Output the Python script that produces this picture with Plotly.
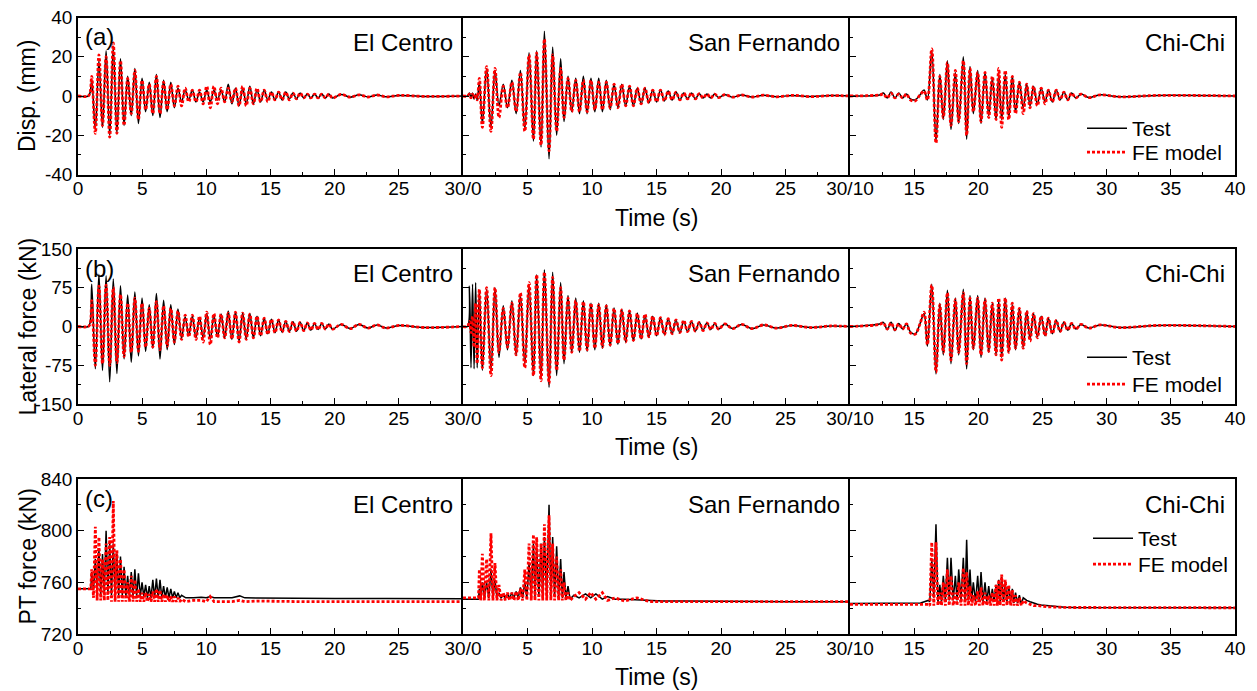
import plotly.graph_objects as go

# ======================= DATA =======================
# ---- El Centro: half-cycle peak times (s), shared by displacement & lateral force
t_elc = [0, 0.80, 0.95, 1.07, 1.35, 1.63, 1.91, 2.19, 2.47, 2.75,
         3.03, 3.31, 3.59, 3.87, 4.15, 4.43, 4.71, 4.99, 5.27, 5.55,
         5.83, 6.11, 6.39, 6.67, 6.95, 7.23, 7.51, 7.79, 8.07, 8.35,
         8.63, 8.91, 9.19, 9.47, 9.75, 10.03, 10.31, 10.59, 10.87, 11.15,
         11.43, 11.71, 11.99, 12.27, 12.55, 12.83, 13.11, 13.39, 13.67, 13.95,
         14.23, 14.51, 14.79, 15.07, 15.35, 15.63, 15.91, 16.19, 16.47, 16.75,
         17.03, 17.31, 17.59, 17.87, 18.15, 18.43, 18.71, 18.99, 19.27, 19.55,
         19.83, 20.5, 21.2, 21.9, 22.6, 23.3, 24.0, 25.0, 27.0, 30.0]
disp_elc_test = [0, 0, 2, 8, -17, 18, -16, 23, -20, 25,
                 -19, 19, -15, 10, -10, 14, -14, 9, -8, 7,
                 -10, 11, -11, 8, -8, 7, -6, 4, -3, 3,
                 -2, 3, -3, 2, -3, 3, -3, 3, -2, 3,
                 -3, 6, -4, 4, -5, 4, -4, 5, -4, 3,
                 -3, 3, -2, 2, -2, 2, -2, 2, -1.5, 1.5,
                 -1.5, 1.5, -1, 1, -1, 1, -1, 1, -1, 1,
                 -1, 0.8, -0.6, 0.6, -0.5, 0.5, -0.4, 0.3, -0.2, 0]
disp_elc_fe = [0, 0, 2, 10, -19, 21, -15, 20, -21, 27,
               -19, 18, -15, 9, -9, 13, -12, 8, -7, 6,
               -9, 10, -9, 7, -7, 6, -5, 5, -5, 4,
               -3, 3, -3, 3, -4, 5, -6, 5, -4, 4,
               -3, 4, -3, 4, -5, 5, -5, 4, -4, 4,
               -3, 3, -3, 2, -2, 2, -2, 2, -2, 1.5,
               -1.5, 1.5, -1, 1, -1, 1, -1, 1, -1, 1,
               -1, 0.8, -0.6, 0.6, -0.5, 0.5, -0.4, 0.3, -0.2, 0]
force_elc_test = [0, 0, 8, 82, -82, 101, -85, 98, -107, 92,
                  -91, 79, -63, 61, -69, 67, -57, 55, -48, 42,
                  -42, 64, -63, 51, -45, 42, -35, 34, -23, 19,
                  -18, 20, -22, 18, -22, 25, -25, 22, -20, 24,
                  -22, 30, -25, 28, -28, 26, -24, 25, -22, 20,
                  -18, 16, -14, 14, -12, 13, -11, 10, -10, 9,
                  -9, 8, -8, 7, -7, 6, -6, 6, -5, 5,
                  -5, 4, -4, 4, -3, 3, -3, 2, -2, 0]
force_elc_fe = [0, 0, 5, 50, -75, 78, -72, 80, -75, 75,
                -70, 62, -58, 45, -50, 55, -48, 45, -40, 35,
                -40, 48, -45, 40, -38, 35, -30, 30, -25, 22,
                -20, 22, -25, 20, -30, 28, -35, 25, -22, 24,
                -22, 26, -24, 28, -30, 26, -25, 24, -22, 20,
                -18, 16, -15, 14, -12, 13, -11, 10, -10, 9,
                -9, 8, -8, 7, -7, 6, -6, 6, -5, 5,
                -5, 4, -4, 4, -3, 3, -3, 2, -2, 0]
# PT force: peaks at every displacement peak, troughs in between
t_elc_pt = [0, 1.00, 1.07, 1.21, 1.35, 1.49, 1.63, 1.77, 1.91, 2.05,
            2.19, 2.33, 2.47, 2.61, 2.75, 2.89, 3.03, 3.17, 3.31, 3.45,
            3.59, 3.73, 3.87, 4.01, 4.15, 4.29, 4.43, 4.57, 4.71, 4.85,
            4.99, 5.13, 5.27, 5.41, 5.55, 5.69, 5.83, 5.97, 6.11, 6.25,
            6.39, 6.53, 6.67, 6.81, 6.95, 7.09, 7.23, 7.37, 7.51, 7.65,
            7.79, 7.93, 8.07, 8.40, 9.00, 9.60, 10.00, 10.30, 10.60, 11.20,
            12.00, 12.60, 13.00, 14.00, 16.00, 18.00, 20.00, 24.00, 27.00, 30.00]
pt_elc_test = [755, 755, 768, 754, 778, 752, 785, 751, 782, 751,
               800, 751, 790, 750, 790, 750, 782, 750, 780, 750,
               772, 749, 765, 749, 768, 749, 770, 749, 767, 749,
               760, 749, 758, 748, 757, 748, 762, 748, 763, 748,
               762, 748, 757, 748, 756, 748, 755, 748, 753, 748,
               752, 748, 750, 748, 748, 748.5, 748, 749, 748, 748,
               748, 749.5, 748, 747.8, 747.6, 747.5, 747.5, 747.4, 747.3, 747.3]
pt_elc_fe = [755, 755, 770, 748, 803, 746, 795, 746, 778, 746,
             790, 746, 795, 745, 823, 745, 785, 745, 778, 745,
             770, 745, 760, 745, 765, 745, 762, 745, 755, 745,
             752, 745, 752, 745, 751, 745, 753, 745, 755, 745,
             754, 745, 751, 745, 750, 745, 749, 745, 749, 745,
             748, 745, 747, 745, 746, 746, 745, 749, 745, 745,
             745, 746, 745, 745.5, 745, 745, 745, 745, 745, 745]

# ---- San Fernando
t_sf = [0, 0.35, 0.50, 0.62, 0.74, 0.86, 0.98, 1.10, 1.27, 1.50,
        1.83, 2.17, 2.48, 2.79, 3.12, 3.45, 3.79, 4.12, 4.45, 4.79,
        5.12, 5.46, 5.71, 6.05, 6.31, 6.67, 6.95, 7.26, 7.57, 7.83,
        8.14, 8.43, 8.74, 9.03, 9.33, 9.62, 9.92, 10.22, 10.52, 10.81,
        11.11, 11.41, 11.71, 12.01, 12.31, 12.61, 12.91, 13.21, 13.51, 13.81,
        14.11, 14.41, 14.71, 15.01, 15.31, 15.61, 15.91, 16.21, 16.51, 16.81,
        17.11, 17.41, 17.71, 18.01, 18.31, 18.61, 18.91, 19.21, 19.51, 19.81,
        20.3, 20.9, 21.6, 22.4, 23.3, 24.3, 25.5, 27.0, 28.5, 30.0]
disp_sf_test = [0, 0, 1.5, -1, 1.5, -1.5, 1, -2, 7, -14,
                14, -16, 13, -5, 6, -6, 8, -9, 13, -17,
                22, -23, 23, -26, 33, -32, 25, -20, 19, -13,
                10, -8, 9, -9, 10, -9, 9, -8, 9, -8,
                8, -7, 6, -6, 6, -5, 5, -5, 4, -4,
                4, -3.5, 3, -3, 3, -2.5, 2.5, -2, 2, -2,
                1.5, -1.5, 1.5, -1.5, 1.2, -1, 1, -1, 1, -0.8,
                0.7, -0.6, 0.5, -0.5, 0.4, -0.4, 0.3, -0.3, 0.2, 0]
disp_sf_fe = [0, 0, 1, -1, 1, -1, 1, -2, 9, -16,
              15, -18, 14, -11, 5, -6, 7, -8, 12, -18,
              21, -22, 22, -25, 29, -28, 21, -18, 14, -11,
              9, -8, 8, -8, 8, -8, 8, -7, 7, -7,
              7, -6, 6, -6, 6, -5, 5, -5, 4, -4,
              4, -3.5, 3, -3, 3, -2.5, 2.5, -2, 2, -2,
              1.5, -1.5, 1.5, -1.5, 1.2, -1, 1, -1, 1, -0.8,
              0.7, -0.6, 0.5, -0.5, 0.4, -0.4, 0.3, -0.3, 0.2, 0]
force_sf_test = [0, 0, 78, -80, 82, -82, 85, -80, 70, -85,
                 72, -85, 75, -60, 40, -45, 50, -55, 60, -72,
                 80, -95, 100, -102, 110, -118, 105, -95, 85, -72,
                 60, -50, 55, -50, 50, -48, 45, -45, 45, -42,
                 42, -38, 36, -34, 33, -30, 30, -28, 26, -24,
                 22, -20, 20, -18, 17, -15, 15, -14, 12, -12,
                 10, -10, 9, -9, 8, -7, 7, -6, 6, -5,
                 5, -4, 4, -4, 3, -3, 2, -2, 1, 0]
force_sf_fe = [0, 0, 10, -12, 20, -40, 45, -72, 72, -80,
               75, -95, 75, -50, 35, -40, 45, -55, 65, -80,
               85, -95, 100, -105, 105, -110, 95, -85, 75, -65,
               55, -50, 50, -48, 48, -45, 45, -42, 42, -40,
               40, -36, 35, -33, 32, -30, 30, -27, 25, -24,
               24, -20, 20, -18, 17, -16, 15, -14, 13, -12,
               12, -10, 10, -9, 8, -8, 7, -6, 6, -5,
               5, -4, 4, -4, 3, -3, 2, -2, 1, 0]
t_sf_pt = [0, 1.20, 1.27, 1.38, 1.50, 1.66, 1.83, 2.00, 2.17, 2.32,
           2.48, 2.63, 2.79, 2.95, 3.12, 3.28, 3.45, 3.62, 3.79, 3.95,
           4.12, 4.28, 4.45, 4.62, 4.79, 4.95, 5.12, 5.29, 5.46, 5.58,
           5.71, 5.88, 6.05, 6.18, 6.31, 6.49, 6.67, 6.81, 6.95, 7.10,
           7.26, 7.41, 7.57, 7.70, 7.83, 7.98, 8.14, 8.30, 8.60, 9.00,
           9.50, 9.90, 10.30, 10.80, 11.20, 11.80, 12.50, 13.50, 14.50, 15.50,
           17.00, 20.00, 25.00, 30.00]
pt_sf_test = [747, 747, 755, 748, 760, 748, 760, 748, 770, 748,
              762, 748, 752, 748, 750, 748, 751, 748, 752, 748,
              753, 748, 756, 748, 760, 748, 775, 749, 790, 749,
              787, 749, 790, 749, 795, 749, 820, 749, 795, 749,
              788, 748, 778, 748, 768, 748, 757, 747, 750, 748,
              751, 748, 751, 747, 749, 747, 747, 746.5, 746, 745.5,
              745.5, 745.2, 745, 745]
pt_sf_fe = [748, 748, 770, 746, 782, 746, 778, 746, 798, 746,
            775, 746, 758, 746, 752, 746, 752, 746, 752, 746,
            753, 746, 755, 746, 770, 746, 790, 746, 797, 746,
            795, 746, 790, 746, 805, 746, 812, 746, 790, 746,
            780, 746, 770, 746, 760, 746, 752, 746, 749, 752,
            747, 752, 747, 752, 746, 748, 745.5, 748, 745, 745,
            745, 745, 745, 745]

# ---- Chi-Chi
t_cc = [10.0, 12.3, 12.6, 12.9, 13.2, 13.5, 13.8, 14.1, 14.4, 14.7,
        15.07, 15.45, 15.77, 16.03, 16.37, 16.70, 17.00, 17.27, 17.59, 17.87,
        18.21, 18.47, 18.83, 19.09, 19.35, 19.61, 19.95, 20.21, 20.52, 20.81,
        21.09, 21.38, 21.59, 21.82, 22.10, 22.37, 22.65, 22.90, 23.20, 23.50,
        23.77, 24.03, 24.30, 24.60, 24.90, 25.20, 25.46, 25.77, 26.07, 26.37,
        26.67, 26.97, 27.27, 27.6, 28.0, 28.6, 29.5, 31.0, 34.0, 40.0]
disp_cc_test = [0, 0.5, 1.5, -1, 2, -1, 1.5, -1, 1, -1.5,
                -2, 0.5, 3, -2, 23, -23, 11, -12, 18, -17,
                12, -14, 20, -22, 15, -9, 13, -14, 12, -10,
                9, -12, 11, -12, 11, -11, 10, -8, 7, -6,
                6, -5, 5, -4, 4, -3, 3, -3, 3, -2,
                2, -2, 1.5, -1, 1, -0.8, 0.6, -0.4, 0.3, 0]
disp_cc_fe = [0, 0.5, 1, -1, 1.5, -1, 1, -1, 1, -2,
              -2.5, 0.5, 2.5, -2, 24, -24, 10, -11, 17, -15,
              13, -13, 18, -20, 14, -8, 12, -13, 12, -11,
              10, -12, 14, -16, 13, -12, 10, -9, 7, -9,
              6, -6, 5, -5, 4, -4, 3, -3, 3, -2,
              2, -2, 1.5, -1, 1, -0.8, 0.6, -0.4, 0.3, 0]
force_cc_test = [0, 5, 8, -6, 8, -8, 6, -5, 5, -10,
                 -15, 5, 25, -38, 82, -92, 45, -55, 70, -72,
                 55, -55, 72, -82, 60, -45, 60, -60, 55, -50,
                 45, -55, 50, -60, 55, -50, 42, -45, 35, -40,
                 30, -25, 25, -20, 20, -18, 16, -14, 12, -10,
                 8, -7, 6, -5, 4, -3, 3, -2, 2, 0]
force_cc_fe = [0, 4, 7, -5, 7, -6, 5, -5, 5, -12,
               -15, 5, 28, -35, 80, -88, 42, -50, 65, -65,
               52, -50, 65, -72, 55, -42, 55, -55, 52, -48,
               45, -55, 55, -65, 55, -50, 45, -42, 35, -42,
               30, -28, 25, -22, 20, -18, 16, -14, 12, -10,
               8, -7, 6, -5, 4, -3, 3, -2, 2, 0]
t_cc_pt = [10.0, 15.5, 16.10, 16.22, 16.37, 16.53, 16.70, 16.85, 17.00, 17.13,
           17.27, 17.43, 17.59, 17.73, 17.87, 18.04, 18.21, 18.34, 18.47, 18.65,
           18.83, 18.96, 19.09, 19.22, 19.35, 19.48, 19.61, 19.78, 19.95, 20.08,
           20.21, 20.36, 20.52, 20.66, 20.81, 20.95, 21.09, 21.23, 21.38, 21.48,
           21.59, 21.70, 21.82, 21.96, 22.10, 22.23, 22.37, 22.51, 22.65, 22.77,
           22.90, 23.05, 23.20, 23.35, 23.50, 23.77, 24.03, 24.30, 24.60, 24.90,
           25.50, 26.10, 26.70, 27.50, 29.00, 32.00, 36.00, 40.00]
pt_cc_test = [743.7, 744, 746, 745, 778, 748, 805, 744, 758, 745,
              765, 746, 779, 746, 779, 746, 765, 746, 770, 746,
              779, 746, 793, 746, 770, 746, 760, 745, 765, 745,
              768, 745, 760, 745, 757, 745, 755, 745, 758, 745,
              762, 745, 764, 745, 760, 745, 757, 745, 755, 744,
              752, 744, 750, 743, 748, 746, 745, 744, 743, 742.5,
              742, 741, 740.7, 740.5, 740.5, 740.3, 740.3, 740.3]
pt_cc_fe = [743, 743, 743, 742, 791, 742, 791, 742, 752, 742,
            760, 742, 770, 742, 765, 742, 752, 742, 760, 742,
            771, 742, 768, 742, 757, 742, 750, 742, 753, 742,
            756, 742, 752, 742, 750, 742, 752, 742, 758, 742,
            762, 742, 766, 742, 762, 742, 758, 742, 754, 742,
            750, 742, 748, 742, 746, 744, 743, 742, 742, 741.5,
            741, 740.8, 740.6, 740.5, 740.5, 740.3, 740.3, 740.3]

quake_names = ["El Centro", "San Fernando", "Chi-Chi"]
row_titles = ["Disp. (mm)", "Lateral force (kN)", "PT force (kN)"]
panel_tags = ["(a)", "(b)", "(c)"]
series_names = ["Test", "FE model"]

y_ranges = [[-40, 40], [-150, 150], [720, 840]]
y_ticks = [[-40, -20, 0, 20, 40], [-150, -75, 0, 75, 150], [720, 760, 800, 840]]
y_minor = [[-30, -10, 10, 30], [-112.5, -37.5, 37.5, 112.5], [740, 780, 820]]
x_ranges = [[0, 30], [0, 30], [10, 40]]
x_ticks = [[0, 5, 10, 15, 20, 25, 30], [5, 10, 15, 20, 25, 30], [15, 20, 25, 30, 35, 40]]
x_ticktext = [["0", "5", "10", "15", "20", "25", "30/0"],
              ["5", "10", "15", "20", "25", "30/10"],
              ["15", "20", "25", "30", "35", "40"]]
x_minor = [[2.5, 7.5, 12.5, 17.5, 22.5, 27.5], [2.5, 7.5, 12.5, 17.5, 22.5, 27.5],
           [12.5, 17.5, 22.5, 27.5, 32.5, 37.5]]

# data[row][col] = (time, test, fe)
data = [
    [(t_elc, disp_elc_test, disp_elc_fe), (t_sf, disp_sf_test, disp_sf_fe), (t_cc, disp_cc_test, disp_cc_fe)],
    [(t_elc, force_elc_test, force_elc_fe), (t_sf, force_sf_test, force_sf_fe), (t_cc, force_cc_test, force_cc_fe)],
    [(t_elc_pt, pt_elc_test, pt_elc_fe), (t_sf_pt, pt_sf_test, pt_sf_fe), (t_cc_pt, pt_cc_test, pt_cc_fe)],
]
for row in data:
    for tt, a, b in row:
        assert len(tt) == len(a) == len(b), (len(tt), len(a), len(b))

# ======================= LAYOUT =======================
W, H = 1257, 691
FONT = "Liberation Sans, Arial, sans-serif"
X_EDGES = [78, 463, 850, 1235]
Y_ROWS = [(17.5, 174.5), (249, 404), (479, 634)]


def px(x):
    return x / W


def py(y):
    return 1 - y / H


fig = go.Figure()
layout = dict(width=W, height=H, margin=dict(l=0, r=0, t=0, b=0, pad=0, autoexpand=False),
              autosize=False,
              paper_bgcolor="white", plot_bgcolor="white",
              font=dict(family=FONT, color="black"), showlegend=True)

# one legend per entry so the two entries can sit close together as in the reference
legend_pos = {  # (left x, top y) in px
    (0, 0): (1082, 108), (0, 1): (1082, 132),
    (1, 0): (1082, 337), (1, 1): (1082, 364),
    (2, 0): (1088, 518), (2, 1): (1088, 544),
}


def legend_key(r, s):
    n = r * 2 + s + 1
    return "legend" if n == 1 else f"legend{n}"


annotations = []
for r in range(3):
    for c in range(3):
        k = r * 3 + c + 1
        xa = "xaxis" if k == 1 else f"xaxis{k}"
        ya = "yaxis" if k == 1 else f"yaxis{k}"
        xref = "x" if k == 1 else f"x{k}"
        yref = "y" if k == 1 else f"y{k}"
        layout[xa] = dict(
            domain=[px(X_EDGES[c]), px(X_EDGES[c + 1])], anchor=yref,
            range=x_ranges[c], tickmode="array", tickvals=x_ticks[c], ticktext=x_ticktext[c],
            ticks="inside", ticklen=6, tickwidth=1.3, tickcolor="black",
            minor=dict(tickmode="array", tickvals=x_minor[c], ticks="inside", ticklen=3,
                       tickwidth=1.2, tickcolor="black", showgrid=False),
            showline=True, linewidth=1.5, linecolor="black", mirror=True,
            showgrid=False, zeroline=False, automargin=False, ticklabelstandoff=-4,
            tickfont=dict(size=19, family=FONT),
        )
        layout[ya] = dict(
            domain=[py(Y_ROWS[r][1]), py(Y_ROWS[r][0])], anchor=xref,
            range=y_ranges[r], tickmode="array", tickvals=y_ticks[r],
            ticktext=[str(v) for v in y_ticks[r]], showticklabels=(c == 0),
            ticks="inside", ticklen=6, tickwidth=1.3, tickcolor="black",
            minor=dict(tickmode="array", tickvals=y_minor[r], ticks="inside", ticklen=3,
                       tickwidth=1.2, tickcolor="black", showgrid=False),
            showline=True, linewidth=1.5, linecolor="black", mirror=(c == 2),
            showgrid=False, zeroline=False, automargin=False,
            tickfont=dict(size=19, family=FONT),
        )
        tt, test, fe = data[r][c]
        shape = "linear" if r == 2 else "spline"
        fig.add_trace(go.Scatter(x=tt, y=test, mode="lines", name=series_names[0],
                                 line=dict(color="black", width=1.5, shape=shape),
                                 xaxis=xref, yaxis=yref, showlegend=(c == 2),
                                 legend=legend_key(r, 0)))
        fig.add_trace(go.Scatter(x=tt, y=fe, mode="lines", name=series_names[1],
                                 line=dict(color="#ff0000", width=2.8, dash="3px,2px", shape=shape),
                                 xaxis=xref, yaxis=yref, showlegend=(c == 2),
                                 legend=legend_key(r, 1)))
        # earthquake name, top-right of each panel
        annotations.append(dict(text=quake_names[c], xref="paper", yref="paper",
                                x=px(X_EDGES[c + 1] - 8), y=py(Y_ROWS[r][0] + 25),
                                xanchor="right", yanchor="middle", showarrow=False,
                                font=dict(size=24, family=FONT)))
    # panel tag
    annotations.append(dict(text=panel_tags[r], xref="paper", yref="paper",
                            x=px(83), y=py(Y_ROWS[r][0] + 19), xanchor="left", yanchor="middle",
                            showarrow=False, font=dict(size=24, family=FONT)))
    # row y title
    annotations.append(dict(text=row_titles[r], xref="paper", yref="paper",
                            x=px(27), y=py((Y_ROWS[r][0] + Y_ROWS[r][1]) / 2), textangle=-90,
                            xanchor="center", yanchor="middle", showarrow=False,
                            font=dict(size=23, family=FONT)))
    # Time (s)
    annotations.append(dict(text="Time (s)", xref="paper", yref="paper",
                            x=px((X_EDGES[1] + X_EDGES[2]) / 2), y=py(Y_ROWS[r][1] + 43),
                            xanchor="center", yanchor="middle", showarrow=False,
                            font=dict(size=23, family=FONT)))
    for s in range(2):
        lx, ly = legend_pos[(r, s)]
        layout[legend_key(r, s)] = dict(x=px(lx), y=py(ly), xanchor="left", yanchor="top",
                                        bgcolor="rgba(0,0,0,0)", borderwidth=0,
                                        font=dict(size=21, family=FONT), itemwidth=40)

layout["annotations"] = annotations
fig.update_layout(**layout)
fig.write_html("out.html")
